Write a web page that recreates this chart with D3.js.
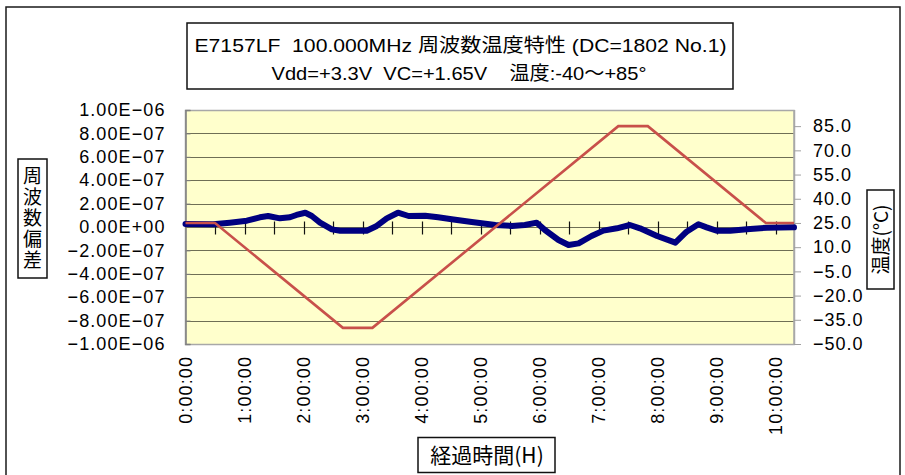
<!DOCTYPE html>
<html>
<head>
<meta charset="utf-8">
<script src="https://cdn.jsdelivr.net/npm/d3@7"></script>
<style>
  html, body { margin: 0; padding: 0; background: #fff; }
  svg { display: block; }
  text { font-family: "Liberation Sans", "Noto Sans CJK JP", sans-serif; fill: #000; }
  .jp { font-family: "Noto Sans CJK JP", sans-serif; }
</style>
</head>
<body>
<div id="container"></div>
<script>
//### DATA ###
//>>> Titles
const titleLine1 = 'E7157LF  100.000MHz 周波数温度特性 (DC=1802 No.1)';
const titleLine2 = 'Vdd=+3.3V  VC=+1.65V    温度:-40〜+85°';
const leftTitle = '周波数偏差';
const rightTitle = '温度(°C)';
const xTitle = '経過時間(H)';

//>>> Axis ticks
const hourTicks = [ 0, 1, 2, 3, 4, 5, 6, 7, 8, 9, 10 ];
const halfHourTicks = d3.range( 0.5, 10.5, 0.5 );
const freqTicks = [ -1e-6, -8e-7, -6e-7, -4e-7, -2e-7, 0, 2e-7, 4e-7, 6e-7, 8e-7, 1e-6 ];
const tempTicks = [ -50, -35, -20, -5, 10, 25, 40, 55, 70, 85 ];

//>>> Temperature profile (hours, degC)
const tempTime = [ 0, 0.5, 2.667, 3.167, 7.333, 7.833, 9.833, 10.31 ];
const tempValue = [ 25, 25, -40, -40, 85, 85, 25, 25 ];

//>>> Frequency deviation (hours, relative)
const freqTime = [ 0, 0.47, 0.75, 1.04, 1.26, 1.40, 1.60, 1.77, 1.88, 2.03, 2.14, 2.28, 2.48, 2.62,
  3.07, 3.24, 3.41, 3.60, 3.78, 4.06, 4.28, 4.51, 4.85, 5.25, 5.53, 5.75, 5.95, 6.09, 6.32, 6.49,
  6.66, 6.88, 7.08, 7.31, 7.53, 7.70, 7.99, 8.30, 8.49, 8.69, 8.83, 9.00, 9.23, 9.51, 9.85, 10.31 ];
const freqDev = [ 2.6e-8, 2.3e-8, 3.7e-8, 5.4e-8, 8.3e-8, 9.4e-8, 7.4e-8, 8.3e-8, 1.03e-7, 1.22e-7,
  9.4e-8, 3.7e-8, -2.0e-8, -3.2e-8, -3.2e-8, 9e-9, 7.4e-8, 1.22e-7, 9.4e-8, 9.7e-8, 8.3e-8, 6.6e-8,
  4.3e-8, 1.7e-8, 9e-9, 1.7e-8, 3.7e-8, -2.6e-8, -1.11e-7, -1.54e-7, -1.40e-7, -7.7e-8, -3.1e-8,
  -1.1e-8, 1.7e-8, -1.1e-8, -7.7e-8, -1.34e-7, -4.0e-8, 2.3e-8, -3e-9, -3.2e-8, -3.2e-8, -2.0e-8,
  -6e-9, -3e-9 ];

//### CHART ###
const width = 905;
const height = 475;
const plot = { left: 185.5, right: 794, top: 110, bottom: 344 };

const svg = d3.select( '#container' ).append( 'svg' )
  .attr( 'width', width )
  .attr( 'height', height );

//>>> Outer frame
svg.append( 'rect' )
  .attr( 'x', 6 ).attr( 'y', 7 )
  .attr( 'width', 894 ).attr( 'height', 480 )
  .attr( 'fill', 'none' ).attr( 'stroke', '#1a1a1a' ).attr( 'stroke-width', 1.5 );

//_____ SCALES _____
const x = d3.scaleLinear().domain( [ 0, 10.31 ] ).range( [ plot.left, plot.right ] );
const yL = d3.scaleLinear().domain( [ -1e-6, 1e-6 ] ).range( [ plot.bottom, plot.top ] );
const yR = d3.scaleLinear().domain( [ -50, 95 ] ).range( [ plot.bottom, plot.top ] );

//_____ PLOT AREA _____
svg.append( 'rect' )
  .attr( 'x', plot.left ).attr( 'y', plot.top )
  .attr( 'width', plot.right - plot.left ).attr( 'height', plot.bottom - plot.top )
  .attr( 'fill', '#ffffcc' );

//>>> Grid lines
svg.append( 'g' )
  .selectAll( 'line' )
  .data( freqTicks.slice( 0, -1 ) )
  .join( 'line' )
  .attr( 'x1', plot.left ).attr( 'x2', plot.right )
  .attr( 'y1', d => Math.round( yL( d ) ) + 0.5 ).attr( 'y2', d => Math.round( yL( d ) ) + 0.5 )
  .attr( 'stroke', '#6f6f55' ).attr( 'stroke-width', 1.2 );

//>>> Plot border
svg.append( 'rect' )
  .attr( 'x', plot.left ).attr( 'y', plot.top + 0.5 )
  .attr( 'width', plot.right - plot.left ).attr( 'height', plot.bottom - plot.top )
  .attr( 'fill', 'none' ).attr( 'stroke', '#a8a8a8' ).attr( 'stroke-width', 1.5 );

//_____ LEFT AXIS _____
const fmtE = v => d3.format( '.2e' )( v ).replace( /e([+\u2212-])(\d+)/, ( m, s, n ) =>
  'E' + ( s === '+' ? '+' : '\u2212' ) + n.padStart( 2, '0' ) );

const leftAxis = svg.append( 'g' )
  .attr( 'transform', `translate(${plot.left},0)` )
  .call( d3.axisLeft( yL ).tickValues( freqTicks ).tickSize( -5 ).tickPadding( 20 ).tickFormat( fmtE ) );
leftAxis.select( '.domain' ).attr( 'stroke', '#808080' ).attr( 'stroke-width', 1.5 );
leftAxis.selectAll( 'line' ).attr( 'stroke', '#808080' );
leftAxis.selectAll( 'text' )
  .style( 'font-family', '"Liberation Sans", sans-serif' )
  .style( 'font-size', '18px' )
  .style( 'letter-spacing', '1.1px' );

//_____ RIGHT AXIS _____
const rightAxis = svg.append( 'g' )
  .attr( 'transform', `translate(${plot.right},0)` )
  .call( d3.axisRight( yR ).tickValues( tempTicks ).tickSize( 7 ).tickPadding( 12 ).tickFormat( d3.format( '.1f' ) ) );
rightAxis.select( '.domain' ).attr( 'stroke', '#a8a8a8' ).attr( 'stroke-width', 1.5 )
  .attr( 'd', `M0.5,${plot.top}V${plot.bottom}` );
rightAxis.selectAll( 'line' ).attr( 'stroke', '#a0a0a0' );
rightAxis.selectAll( 'text' )
  .style( 'font-family', '"Liberation Sans", sans-serif' )
  .style( 'font-size', '18px' )
  .style( 'letter-spacing', '1px' );

//_____ X AXIS (crossing at zero) _____
const zeroY = Math.round( yL( 0 ) ) + 0.5;
svg.append( 'line' )
  .attr( 'x1', plot.left ).attr( 'x2', plot.right )
  .attr( 'y1', zeroY ).attr( 'y2', zeroY )
  .attr( 'stroke', '#6f6f55' ).attr( 'stroke-width', 1.2 );

svg.append( 'g' )
  .selectAll( 'line' )
  .data( halfHourTicks )
  .join( 'line' )
  .attr( 'x1', d => Math.round( x( d ) ) + 0.5 ).attr( 'x2', d => Math.round( x( d ) ) + 0.5 )
  .attr( 'y1', zeroY - 6 ).attr( 'y2', zeroY + 7 )
  .attr( 'stroke', '#111' ).attr( 'stroke-width', 1.2 );

//>>> Rotated hour labels below the plot
svg.append( 'g' )
  .selectAll( 'text' )
  .data( hourTicks )
  .join( 'text' )
  .attr( 'transform', d => `translate(${x( d )},356) rotate(-90)` )
  .attr( 'text-anchor', 'end' )
  .attr( 'dy', '0.35em' )
  .style( 'font-size', '18px' )
  .style( 'letter-spacing', '1.1px' )
  .text( d => `${d}:00:00` );

//_____ SERIES _____
const freqLine = d3.line()
  .x( ( d, i ) => x( freqTime[ i ] ) )
  .y( d => yL( d ) );
svg.append( 'path' )
  .attr( 'd', freqLine( freqDev ) )
  .attr( 'fill', 'none' )
  .attr( 'stroke', '#000080' )
  .attr( 'stroke-width', 6 )
  .attr( 'stroke-linejoin', 'round' )
  .attr( 'stroke-linecap', 'round' );

const tempLine = d3.line()
  .x( ( d, i ) => x( tempTime[ i ] ) )
  .y( d => yR( d ) );
svg.append( 'path' )
  .attr( 'd', tempLine( tempValue ) )
  .attr( 'fill', 'none' )
  .attr( 'stroke', '#c8504a' )
  .attr( 'stroke-width', 2.6 );

//_____ TITLE BOX _____
svg.append( 'rect' )
  .attr( 'x', 187 ).attr( 'y', 23 ).attr( 'width', 546 ).attr( 'height', 66 )
  .attr( 'fill', '#fff' ).attr( 'stroke', '#111' ).attr( 'stroke-width', 1.5 );
svg.append( 'text' )
  .attr( 'x', 460.5 ).attr( 'y', 52 )
  .attr( 'text-anchor', 'middle' )
  .attr( 'textLength', 532 ).attr( 'lengthAdjust', 'spacingAndGlyphs' )
  .style( 'font-size', '19px' )
  .style( 'white-space', 'pre' )
  .text( titleLine1 );
svg.append( 'text' )
  .attr( 'x', 459 ).attr( 'y', 80 )
  .attr( 'text-anchor', 'middle' )
  .attr( 'textLength', 375 ).attr( 'lengthAdjust', 'spacingAndGlyphs' )
  .style( 'font-size', '19px' )
  .style( 'white-space', 'pre' )
  .text( titleLine2 );

//_____ AXIS TITLES _____
//>>> Left: upright characters stacked vertically
svg.append( 'rect' )
  .attr( 'x', 18 ).attr( 'y', 159 ).attr( 'width', 29 ).attr( 'height', 119 )
  .attr( 'fill', '#fff' ).attr( 'stroke', '#111' ).attr( 'stroke-width', 1.5 );
svg.append( 'text' )
  .attr( 'class', 'jp' )
  .attr( 'x', 32.5 ).attr( 'y', 218.5 )
  .attr( 'text-anchor', 'middle' )
  .style( 'writing-mode', 'vertical-rl' )
  .style( 'font-size', '19px' )
  .style( 'letter-spacing', '2px' )
  .text( leftTitle );

//>>> Right: rotated text reading bottom to top
svg.append( 'rect' )
  .attr( 'x', 867 ).attr( 'y', 190 ).attr( 'width', 27 ).attr( 'height', 99 )
  .attr( 'fill', '#fff' ).attr( 'stroke', '#111' ).attr( 'stroke-width', 1.5 );
svg.append( 'text' )
  .attr( 'class', 'jp' )
  .attr( 'transform', 'translate(881,239.5) rotate(-90)' )
  .attr( 'text-anchor', 'middle' )
  .attr( 'dy', '0.36em' )
  .style( 'font-size', '19px' )
  .text( rightTitle );

//>>> Bottom
svg.append( 'rect' )
  .attr( 'x', 418 ).attr( 'y', 437.5 ).attr( 'width', 137 ).attr( 'height', 35 )
  .attr( 'fill', '#fff' ).attr( 'stroke', '#111' ).attr( 'stroke-width', 1.5 );
svg.append( 'text' )
  .attr( 'class', 'jp' )
  .attr( 'x', 487 ).attr( 'y', 455 )
  .attr( 'text-anchor', 'middle' )
  .attr( 'dy', '0.36em' )
  .style( 'font-size', '21px' )
  .text( xTitle );
</script>
</body>
</html>
